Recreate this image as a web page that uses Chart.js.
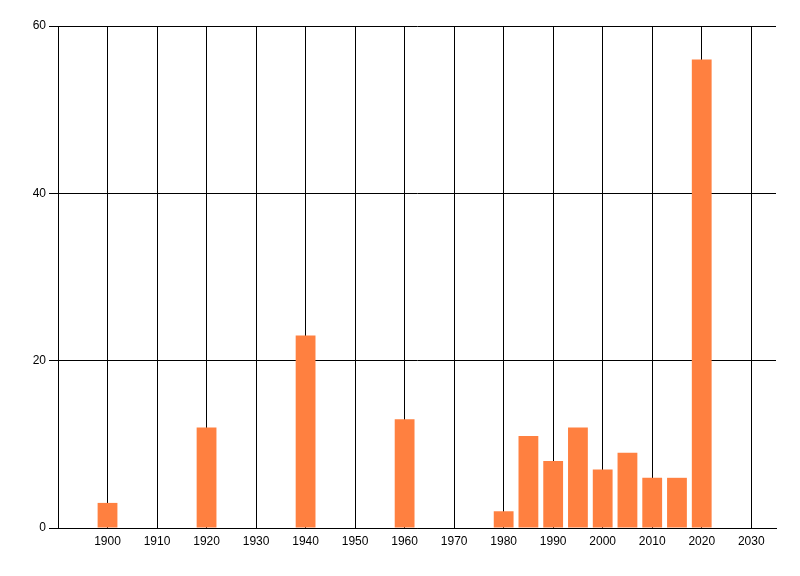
<!DOCTYPE html>
<html>
<head>
<meta charset="utf-8">
<style>
html,body{margin:0;padding:0;background:#fff;}
#wrap{width:800px;height:576px;}
</style>
<script src="https://cdn.jsdelivr.net/npm/chart.js@4.4.0/dist/chart.umd.min.js"></script>
</head>
<body>
<div id="wrap"><canvas id="c" width="800" height="576"></canvas></div>
<script>
const years = [1900, 1920, 1940, 1960, 1980, 1985, 1990, 1995, 2000, 2005, 2010, 2015, 2020];
const counts = [3, 12, 23, 13, 2, 11, 8, 12, 7, 9, 6, 6, 56];
const xTickValues = [1900, 1910, 1920, 1930, 1940, 1950, 1960, 1970, 1980, 1990, 2000, 2010, 2020, 2030];
const yTickValues = [0, 20, 40, 60];

const points = years.map((y, i) => ({x: y, y: counts[i]}));
const FONT = {family: '"Liberation Sans Narrow", "Liberation Sans", Arial, sans-serif', size: 12};

new Chart(document.getElementById('c'), {
  type: 'bar',
  data: {
    datasets: [{
      data: points,
      backgroundColor: '#FF8040',
      borderWidth: 0,
      barPercentage: 1.0,
      categoryPercentage: 0.8
    }]
  },
  options: {
    responsive: false,
    animation: false,
    devicePixelRatio: 1,
    layout: {padding: {top: 26, right: 24, left: 0, bottom: 0}},
    plugins: {legend: {display: false}, tooltip: {enabled: false}},
    scales: {
      x: {
        type: 'linear',
        min: 1890,
        max: 2035,
        offset: false,
        afterBuildTicks: (s) => { s.ticks = xTickValues.map(v => ({value: v})); },
        afterFit: (s) => { s.height = 48; },
        ticks: {color: '#000', font: FONT, padding: 6, maxRotation: 0, autoSkip: false,
                callback: (v) => String(v)},
        grid: {color: '#000', lineWidth: 1, drawTicks: false, offset: false},
        border: {color: '#000', width: 1}
      },
      y: {
        type: 'linear',
        min: 0,
        max: 60,
        afterBuildTicks: (s) => { s.ticks = yTickValues.map(v => ({value: v})); },
        afterFit: (s) => { s.width = 58; },
        ticks: {color: '#000', font: FONT, padding: 3},
        grid: {color: '#000', lineWidth: 1, drawTicks: true, tickLength: 9},
        border: {color: '#000', width: 1}
      }
    }
  }
});
</script>
</body>
</html>
